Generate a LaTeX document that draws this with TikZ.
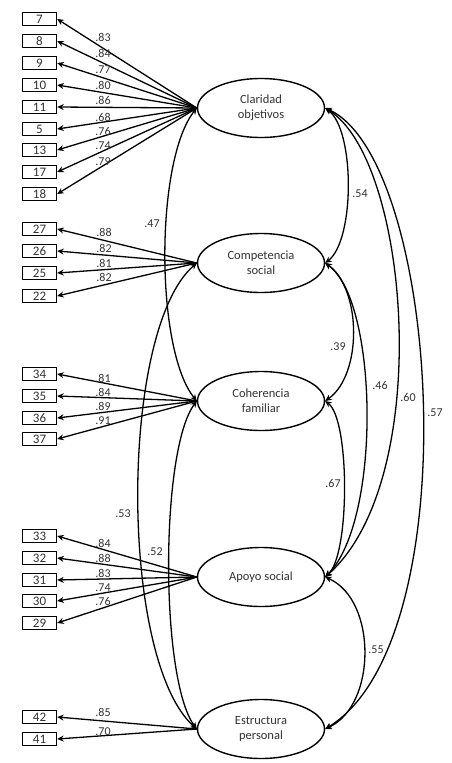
\documentclass[tikz,border=0pt]{standalone}
\usepackage{fontspec}
\setmainfont{Carlito}
\usetikzlibrary{arrows.meta,shapes.geometric}
\begin{document}
\begin{tikzpicture}[x=1pt,y=-1pt,
  lat/.style={draw,ellipse,line width=1.4pt,minimum width=127pt,minimum height=59pt,inner sep=0pt,align=center,font=\fontsize{12.5}{15}\selectfont,text=black!80},
  item/.style={draw,rectangle,line width=1.4pt,minimum width=34pt,minimum height=13pt,inner sep=0pt,font=\fontsize{13}{13}\selectfont,text=black!80},
  load/.style={-{Stealth[length=6.5pt,width=6pt]},line width=1.3pt},
  cov/.style={{Stealth[length=6.5pt,width=6pt]}-{Stealth[length=6.5pt,width=6pt]},line width=1.3pt},
  lbl/.style={font=\fontsize{12}{12}\selectfont,text=black!80,inner sep=0pt}
]
\useasboundingbox (0,0) rectangle (451,763);

\node[lat] (clar) at (261,108) {Claridad\\objetivos};
\node[lat] (comp) at (261,263) {Competencia\\social};
\node[lat] (coh)  at (261,401) {Coherencia\\familiar};
\node[lat] (apo)  at (261,577) {Apoyo social};
\node[lat] (est)  at (261,729) {Estructura\\personal};

\foreach \n/\y/\val/\ly in {7/19/.83/37, 8/41/.84/53, 9/63/.77/70, 10/85/.80/85, 11/107/.86/100, 5/129/.68/117, 13/150/.76/131, 17/172/.74/146, 18/194/.79/162}{
  \node[item] (i\n) at (39.5,\y) {\n};
  \draw[load] (clar.west) -- (i\n.east);
  \node[lbl] (l\n) at (103,\ly) {\val};
}
\foreach \n/\y/\val/\ly in {27/229/.88/232, 26/251/.82/248, 25/273/.81/263, 22/296/.82/277}{
  \node[item] (i\n) at (39.5,\y) {\n};
  \draw[load] (comp.west) -- (i\n.east);
  \node[lbl] (l\n) at (104,\ly) {\val};
}
\foreach \n/\y/\val/\ly in {34/374/.81/378, 35/396/.84/392, 36/418/.89/406, 37/439/.91/421}{
  \node[item] (i\n) at (39.5,\y) {\n};
  \draw[load] (coh.west) -- (i\n.east);
  \node[lbl] (l\n) at (103,\ly) {\val};
}
\foreach \n/\y/\val/\ly in {33/536/.84/543, 32/558/.88/558, 31/580/.83/573, 30/601/.74/588, 29/623/.76/601}{
  \node[item] (i\n) at (39.5,\y) {\n};
  \draw[load] (apo.west) -- (i\n.east);
  \node[lbl] (l\n) at (103,\ly) {\val};
}
\foreach \n/\y/\val/\ly in {42/717/.85/712, 41/739/.70/732}{
  \node[item] (i\n) at (39.5,\y) {\n};
  \draw[load] (est.west) -- (i\n.east);
  \node[lbl] (l\n) at (103,\ly) {\val};
}

% left covariances
\draw[cov] (clar.west) .. controls (155,160) and (155,350) .. (coh.west);
\draw[cov] (comp.west) .. controls (119,330) and (119,660) .. (est.west);
\draw[cov] (coh.west) .. controls (160,450) and (160,680) .. (est.west);
\node[lbl] (c47) at (152,224) {.47};
\node[lbl] (c53) at (123,514) {.53};
\node[lbl] (c52) at (155,552) {.52};

% right covariances
\draw[cov] (clar.east) .. controls (355,130) and (355,240) .. (comp.east);
\draw[cov] (comp.east) .. controls (362,290) and (362,375) .. (coh.east);
\draw[cov] (comp.east) .. controls (378,300) and (382,520) .. (apo.east);
\draw[cov] (coh.east) .. controls (350,420) and (350,555) .. (apo.east);
\draw[cov] (clar.east) .. controls (410,160) and (435,480) .. (apo.east);
\draw[cov] (clar.east) .. controls (440,160) and (470,640) .. (est.east);
\draw[cov] (apo.east) .. controls (377,600) and (377,705) .. (est.east);
\node[lbl] (c54) at (360,194) {.54};
\node[lbl] (c39) at (338,347) {.39};
\node[lbl] (c46) at (380,385) {.46};
\node[lbl] (c60) at (408,397) {.60};
\node[lbl] (c57) at (435,413) {.57};
\node[lbl] (c67) at (333,483) {.67};
\node[lbl] (c55) at (376,650) {.55};
\end{tikzpicture}
\end{document}
